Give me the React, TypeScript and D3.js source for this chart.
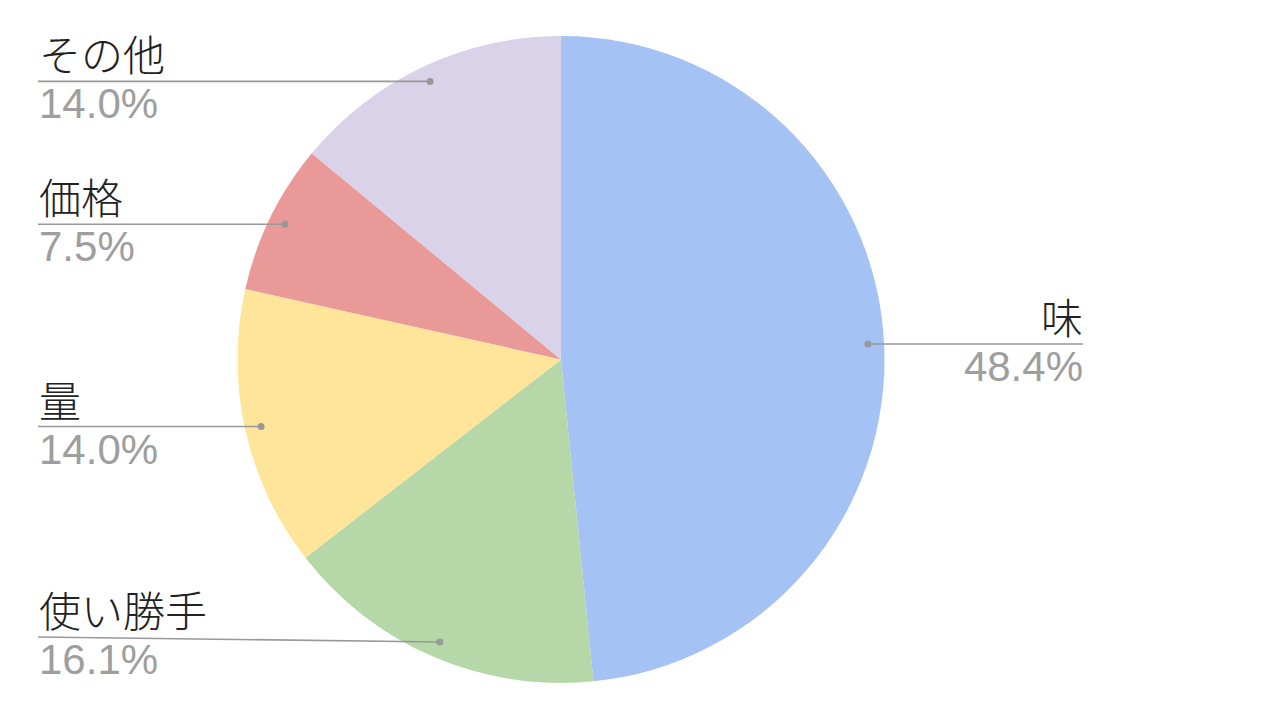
import React from "react";
import * as d3 from "d3";

const categories = ["味", "使い勝手", "量", "価格", "その他"];
const values = [48.4, 16.1, 14.0, 7.5, 14.0];
const colors = ["#a4c2f4", "#b6d7a8", "#ffe599", "#ea9999", "#d9d2e9"];

const W = 1280;
const H = 720;
const cx = 561;
const cy = 359.5;
const R = 323.5;
const dotR = R * 0.95;
const leftX = 38;
const rightX = 1083;
const maxLabelY = 637;
const labelFont = "'Noto Sans CJK JP', sans-serif";
const numFont = "'Liberation Sans', Arial, sans-serif";

export default function App() {
  const pie = d3
    .pie<number>()
    .sort(null)
    .value((d) => d);
  const arcs = pie(values);
  const arc = d3.arc<d3.PieArcDatum<number>>().innerRadius(0).outerRadius(R);

  return (
    <svg
      width={W}
      height={H}
      style={{ position: "absolute", left: 0, top: 0, background: "#fff" }}
    >
      <g transform={`translate(${cx},${cy})`}>
        {arcs.map((a, i) => (
          <path key={i} d={arc(a) || ""} fill={colors[i]} />
        ))}
      </g>
      {arcs.map((a, i) => {
        const mid = (a.startAngle + a.endAngle) / 2;
        const dx = cx + Math.sin(mid) * dotR;
        const dy = cy - Math.cos(mid) * dotR;
        const isRight = dx > cx;
        const ly = Math.min(dy, maxLabelY);
        const lx = isRight ? rightX : leftX;
        const anchor = isRight ? "end" : "start";
        const tx = isRight ? rightX : leftX + 1;
        return (
          <g key={i}>
            <line
              x1={lx}
              y1={ly}
              x2={dx}
              y2={dy}
              stroke="#999"
              strokeWidth={1.6}
            />
            <circle cx={dx} cy={dy} r={3.5} fill="#999" />
            <text
              x={tx}
              y={ly - 10}
              textAnchor={anchor}
              fontFamily={labelFont}
              fontWeight={300}
              fontSize={42}
              fill="#222"
            >
              {categories[i]}
            </text>
            <text
              x={tx}
              y={ly + 37}
              textAnchor={anchor}
              fontFamily={numFont}
              fontSize={42}
              fill="#9e9e9e"
            >
              {values[i].toFixed(1) + "%"}
            </text>
          </g>
        );
      })}
    </svg>
  );
}
